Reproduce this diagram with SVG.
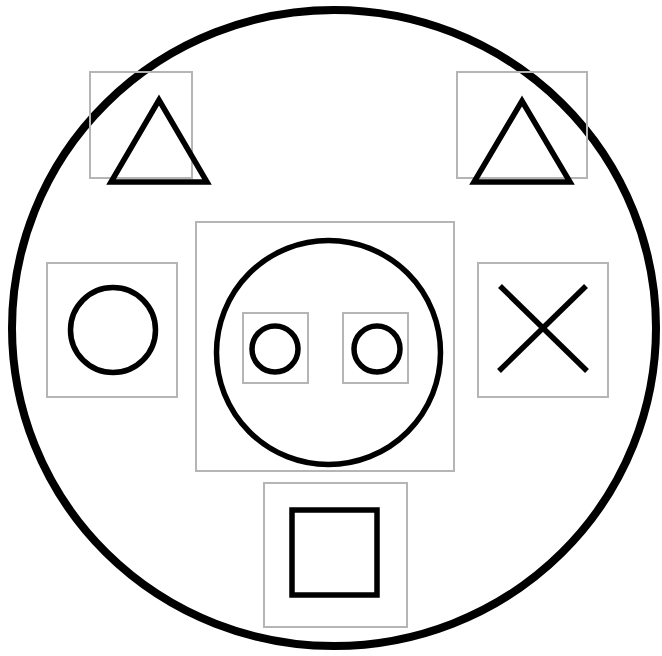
<svg xmlns="http://www.w3.org/2000/svg" width="662" height="656" viewBox="0 0 662 656">
<style>
.box{fill:none;stroke:#b5b5b5;stroke-width:2}
.sym{fill:none;stroke:#000;stroke-width:5.5}
</style>
<rect width="662" height="656" fill="#fff"/>
<g id="outer"><ellipse cx="334" cy="328" rx="322" ry="318" fill="none" stroke="#000" stroke-width="8"/></g>
<g id="triangle-left"><rect class="box" x="90" y="72" width="102" height="106"/><polygon class="sym" points="159,100 111,182 207,182"/></g>
<g id="triangle-right"><rect class="box" x="457" y="72" width="130" height="106"/><polygon class="sym" points="522,101 474,182 570,182"/></g>
<g id="circle-left"><rect class="box" x="47" y="263" width="130" height="134"/><circle class="sym" cx="113" cy="330" r="42.5"/></g>
<g id="cross"><rect class="box" x="478" y="263" width="130" height="134"/><line class="sym" x1="500" y1="286" x2="587" y2="371"/><line class="sym" x1="586" y1="286" x2="499" y2="371"/></g>
<g id="face"><rect class="box" x="196" y="222" width="258" height="249"/><circle class="sym" cx="328.5" cy="352.5" r="112"/>
<rect class="box" x="243" y="313" width="65" height="70"/><circle class="sym" cx="275" cy="349" r="23"/>
<rect class="box" x="343" y="313" width="65" height="70"/><circle class="sym" cx="377" cy="349" r="23"/></g>
<g id="square"><rect class="box" x="264" y="483" width="143" height="144"/><rect class="sym" x="292" y="510" width="85" height="85" stroke-width="6"/></g>
<g id="connectors"/>
</svg>
